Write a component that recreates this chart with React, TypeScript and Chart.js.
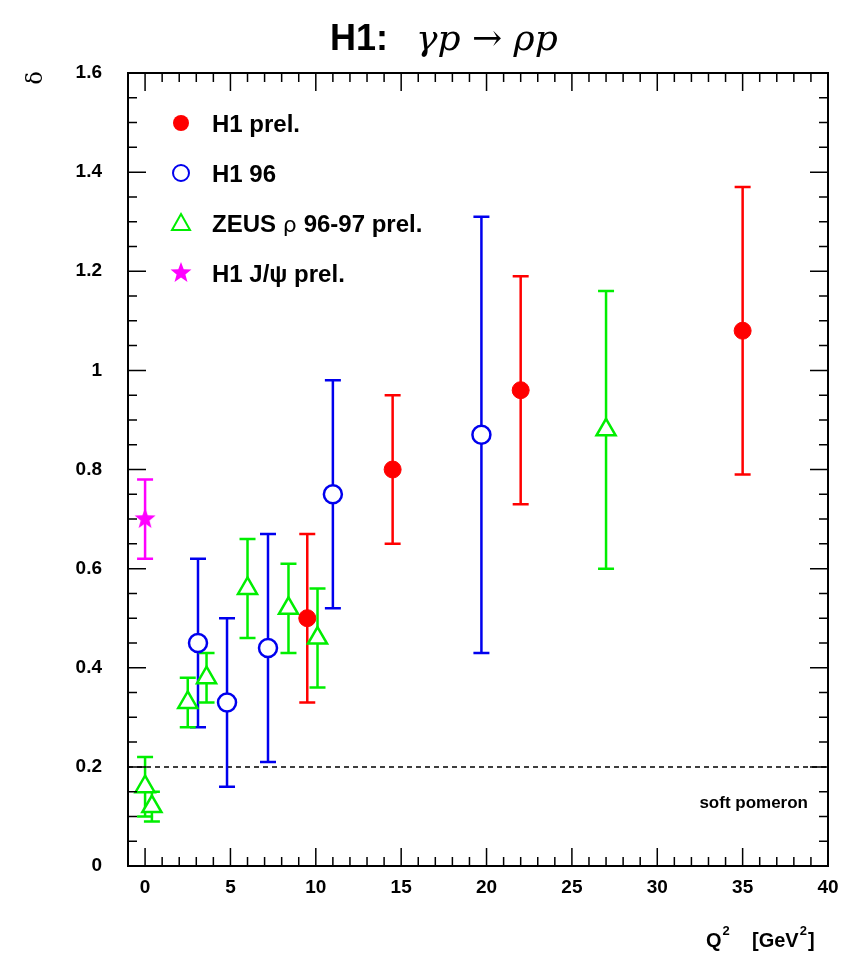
import { useEffect, useRef } from "react";
import Chart from "chart.js/auto";

const H1_PREL_X = [9.5, 14.5, 22, 35];
const H1_PREL_Y = [0.5, 0.8, 0.96, 1.08];
const H1_PREL_LO = [0.33, 0.65, 0.73, 0.79];
const H1_PREL_HI = [0.67, 0.95, 1.19, 1.37];

const H1_96_X = [3.1, 4.8, 7.2, 11, 19.7];
const H1_96_Y = [0.45, 0.33, 0.44, 0.75, 0.87];
const H1_96_LO = [0.28, 0.16, 0.21, 0.52, 0.43];
const H1_96_HI = [0.62, 0.5, 0.67, 0.98, 1.31];

const ZEUS_X = [0, 0.4, 2.5, 3.6, 6, 8.4, 10.1, 27];
const ZEUS_Y = [0.16, 0.12, 0.33, 0.38, 0.56, 0.52, 0.46, 0.88];
const ZEUS_LO = [0.1, 0.09, 0.28, 0.33, 0.46, 0.43, 0.36, 0.6];
const ZEUS_HI = [0.22, 0.15, 0.38, 0.43, 0.66, 0.61, 0.56, 1.16];

const JPSI_X = [0];
const JPSI_Y = [0.7];
const JPSI_LO = [0.62];
const JPSI_HI = [0.78];

const SOFT_POMERON = 0.2;
const X_TICKS = [0, 5, 10, 15, 20, 25, 30, 35, 40];

const RED = "#ff0000";
const BLUE = "#0000ee";
const GREEN = "#00ee00";
const MAGENTA = "#ff00ff";
const SANS = "'Liberation Sans', Arial, sans-serif";

function makeStar(r: number, color: string) {
  const c = document.createElement("canvas");
  c.width = c.height = r * 2 + 2;
  const ctx = c.getContext("2d")!;
  ctx.fillStyle = color;
  ctx.beginPath();
  for (let i = 0; i < 10; i++) {
    const rad = i % 2 === 0 ? r : r * 0.42;
    const a = -Math.PI / 2 + (i * Math.PI) / 5;
    const px = r + 1 + rad * Math.cos(a);
    const py = r + 1 + rad * Math.sin(a);
    if (i === 0) ctx.moveTo(px, py);
    else ctx.lineTo(px, py);
  }
  ctx.closePath();
  ctx.fill();
  return c;
}

function pts(xs: number[], ys: number[]) {
  return xs.map((x, i) => ({ x, y: ys[i] }));
}

export default function App() {
  const ref = useRef<HTMLCanvasElement | null>(null);

  useEffect(() => {
    if (!ref.current) return;
    const star = makeStar(11, MAGENTA);
    const errs = [
      { lo: H1_PREL_LO, hi: H1_PREL_HI, color: RED },
      { lo: H1_96_LO, hi: H1_96_HI, color: BLUE },
      { lo: ZEUS_LO, hi: ZEUS_HI, color: GREEN },
      { lo: JPSI_LO, hi: JPSI_HI, color: MAGENTA },
    ];

    const errorBars = {
      id: "errorBars",
      beforeDatasetsDraw(chart: any) {
        const { ctx, scales } = chart;
        const xs = scales.x;
        const ys = scales.y;
        ctx.save();
        ctx.strokeStyle = "#000";
        ctx.lineWidth = 1.5;
        ctx.setLineDash([5, 4]);
        ctx.beginPath();
        ctx.moveTo(xs.left, ys.getPixelForValue(SOFT_POMERON));
        ctx.lineTo(xs.right, ys.getPixelForValue(SOFT_POMERON));
        ctx.stroke();
        ctx.setLineDash([]);
        errs.forEach((e, di) => {
          const data = chart.data.datasets[di].data;
          ctx.strokeStyle = e.color;
          ctx.lineWidth = 2.5;
          data.forEach((p: any, i: number) => {
            const px = xs.getPixelForValue(p.x);
            const y1 = ys.getPixelForValue(e.lo[i]);
            const y2 = ys.getPixelForValue(e.hi[i]);
            ctx.beginPath();
            ctx.moveTo(px, y1);
            ctx.lineTo(px, y2);
            ctx.moveTo(px - 8, y1);
            ctx.lineTo(px + 8, y1);
            ctx.moveTo(px - 8, y2);
            ctx.lineTo(px + 8, y2);
            ctx.stroke();
          });
        });
        ctx.restore();
      },
      afterDraw(chart: any) {
        const { ctx, scales, chartArea } = chart;
        const xs = scales.x;
        const ys = scales.y;
        ctx.save();
        ctx.strokeStyle = "#000";
        ctx.lineWidth = 2;
        ctx.strokeRect(chartArea.left, chartArea.top, chartArea.right - chartArea.left, chartArea.bottom - chartArea.top);
        ctx.lineWidth = 1.5;
        ctx.beginPath();
        for (let v = -1; v <= 40; v++) {
          const px = xs.getPixelForValue(v);
          const len = v % 5 === 0 ? 18 : 9;
          ctx.moveTo(px, chartArea.bottom);
          ctx.lineTo(px, chartArea.bottom - len);
          ctx.moveTo(px, chartArea.top);
          ctx.lineTo(px, chartArea.top + len);
        }
        for (let k = 0; k <= 32; k++) {
          const py = ys.getPixelForValue(k * 0.05);
          const len = k % 4 === 0 ? 18 : 9;
          ctx.moveTo(chartArea.left, py);
          ctx.lineTo(chartArea.left + len, py);
          ctx.moveTo(chartArea.right, py);
          ctx.lineTo(chartArea.right - len, py);
        }
        ctx.stroke();
        ctx.fillStyle = "#000";
        ctx.textAlign = "right";
        ctx.font = `bold 17px ${SANS}`;
        ctx.fillText("soft pomeron", 808, 808);
        // x title
        ctx.textAlign = "left";
        let x = 706;
        const big = `bold 20px ${SANS}`;
        const sup = `bold 13px ${SANS}`;
        ctx.font = big;
        ctx.fillText("Q", x, 947);
        x += ctx.measureText("Q").width + 1;
        ctx.font = sup;
        ctx.fillText("2", x, 935);
        x = 752;
        ctx.font = big;
        ctx.fillText("[GeV", x, 947);
        x += ctx.measureText("[GeV").width + 1;
        ctx.font = sup;
        ctx.fillText("2", x, 935);
        x += ctx.measureText("2").width + 1;
        ctx.font = big;
        ctx.fillText("]", x, 947);
        ctx.save();
        ctx.translate(42, 78);
        ctx.rotate(-Math.PI / 2);
        ctx.font = "22px 'DejaVu Serif', serif";
        ctx.textAlign = "center";
        ctx.fillText("δ", 0, 0);
        ctx.restore();
        // title
        ctx.textAlign = "left";
        ctx.font = `bold 36px ${SANS}`;
        ctx.fillText("H1:", 330, 50);
        ctx.font = "italic 36px 'DejaVu Serif', serif";
        ctx.fillText("γp → ρp", 416, 50);
        // legend
        const lx = 181;
        const rows = [123, 173, 223, 273];
        ctx.lineWidth = 2;
        ctx.fillStyle = RED;
        ctx.beginPath();
        ctx.arc(lx, rows[0], 8, 0, Math.PI * 2);
        ctx.fill();
        ctx.strokeStyle = BLUE;
        ctx.beginPath();
        ctx.arc(lx, rows[1], 8, 0, Math.PI * 2);
        ctx.stroke();
        ctx.strokeStyle = GREEN;
        ctx.beginPath();
        ctx.moveTo(lx, rows[2] - 9);
        ctx.lineTo(lx + 9, rows[2] + 7);
        ctx.lineTo(lx - 9, rows[2] + 7);
        ctx.closePath();
        ctx.stroke();
        ctx.drawImage(star, lx - 12, rows[3] - 12);
        ctx.fillStyle = "#000";
        ctx.font = `bold 24px ${SANS}`;
        const tx = 212;
        ctx.fillText("H1 prel.", tx, rows[0] + 9);
        ctx.fillText("H1 96", tx, rows[1] + 9);
        ctx.fillText("ZEUS", tx, rows[2] + 9);
        const zw = ctx.measureText("ZEUS ").width;
        ctx.font = "22px 'DejaVu Sans', sans-serif";
        ctx.fillText("ρ", tx + zw, rows[2] + 9);
        const rw = ctx.measureText("ρ ").width;
        ctx.font = `bold 24px ${SANS}`;
        ctx.fillText("96-97 prel.", tx + zw + rw, rows[2] + 9);
        ctx.fillText("H1 J/ψ prel.", tx, rows[3] + 9);
        ctx.restore();
      },
    };

    const tickFont = { family: SANS, size: 19, weight: "bold" as const };
    const chart = new Chart(ref.current, {
      type: "scatter",
      data: {
        datasets: [
          { data: pts(H1_PREL_X, H1_PREL_Y), pointStyle: "circle", pointRadius: 8.5, backgroundColor: RED, borderColor: RED },
          { data: pts(H1_96_X, H1_96_Y), pointStyle: "circle", pointRadius: 9, backgroundColor: "#fff", borderColor: BLUE, borderWidth: 2.5 },
          { data: pts(ZEUS_X, ZEUS_Y), pointStyle: "triangle", pointRadius: 11, backgroundColor: "#fff", borderColor: GREEN, borderWidth: 2.5 },
          { data: pts(JPSI_X, JPSI_Y), pointStyle: star as any, backgroundColor: MAGENTA, borderColor: MAGENTA },
        ],
      },
      options: {
        responsive: false,
        animation: false,
        layout: { padding: { top: 73, right: 21, left: 0, bottom: 0 } },
        plugins: { legend: { display: false }, tooltip: { enabled: false } },
        scales: {
          x: {
            type: "linear",
            min: -1,
            max: 40,
            afterFit: (s: any) => { s.height = 89; },
            afterBuildTicks: (s: any) => { s.ticks = X_TICKS.map((v) => ({ value: v })); },
            grid: { display: false },
            border: { display: false },
            ticks: { color: "#000", font: tickFont, padding: 2 },
          },
          y: {
            min: 0,
            max: 1.6,
            afterFit: (s: any) => { s.width = 128; },
            grid: { display: false },
            border: { display: false },
            ticks: { stepSize: 0.2, color: "#000", padding: 18, font: tickFont, callback: (v: any) => String(Math.round(Number(v) * 10) / 10) },
          },
        },
      },
      plugins: [errorBars],
    });
    return () => chart.destroy();
  }, []);

  return (
    <div style={{ position: "absolute", left: 0, top: 0, width: 849, height: 955, background: "#fff" }}>
      <canvas ref={ref} width={849} height={955} />
    </div>
  );
}
